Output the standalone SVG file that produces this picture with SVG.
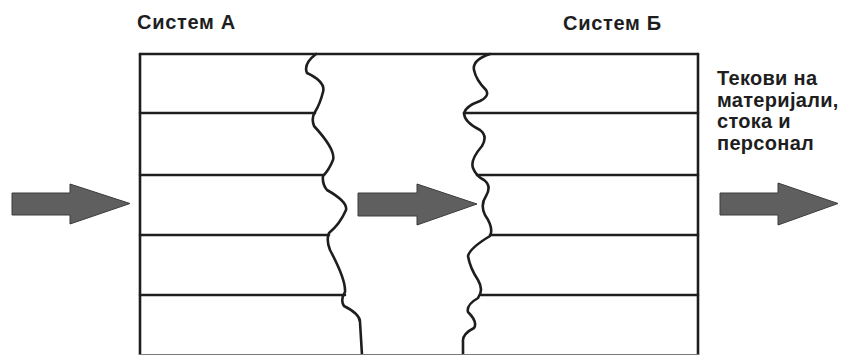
<svg xmlns="http://www.w3.org/2000/svg" width="841" height="355" viewBox="0 0 841 355">
<style>
.ln{fill:none;stroke:#1e1e1e;stroke-width:2.6;stroke-linecap:round;stroke-linejoin:round}
.ar{fill:#5f5f5f;stroke:#3c3c3c;stroke-width:1}
.t{font-family:"Liberation Sans",Arial,sans-serif;font-weight:bold;font-size:20px;fill:#1e1e1e}
</style>
<rect width="841" height="355" fill="#ffffff"/>
<g id="systemA">
<text class="t" x="137" y="29" letter-spacing="0.7">Систем А</text>
<path class="ln" d="M140,54 L140,355"/>
<path class="ln" d="M140,113 L315,113 M140,175 L323,175 M140,235 L329,235 M140,295 L345,295"/>
<path class="ln" d="M316,54 Q303,64 307,73 Q326,82 323,92 Q320,104 315,112 Q311,118 314,126 Q336,150 333,160 Q329,170 323,176 Q322,184 327,190 Q348,202 346,210 Q340,224 329,233 Q326,240 330,250 Q346,280 345,292 Q340,300 344,306 Q360,314 360,322 L362,355"/>
</g>
<g id="systemB">
<text class="t" x="563" y="30" letter-spacing="0.7">Систем Б</text>
<path class="ln" d="M698,54 L698,355"/>
<path class="ln" d="M464,113 L698,113 M477,175 L698,175 M490,235 L698,235 M481,295 L698,295"/>
<path class="ln" d="M490,54 Q472,60 474,70 Q476,80 486,90 Q490,96 480,101 Q466,106 464,113 Q464,122 480,130 Q488,136 482,146 Q470,160 473,168 Q476,176 484,180 Q492,186 486,196 Q480,205 485,215 Q494,228 490,236 Q470,248 468,256 Q470,268 478,280 Q484,290 478,298 Q466,305 468,312 Q478,322 474,328 Q462,334 463,342 L463,355"/>
</g>
<g id="frame">
<path class="ln" d="M140,54 L698,54"/>
<path d="M139,354.5 L699,354.5" stroke="#7a7a7a" stroke-width="1"/>
</g>
<g id="label">
<text class="t" x="717" y="85" letter-spacing="0.3">Текови на</text>
<text class="t" x="717" y="107" letter-spacing="0.3">материјали,</text>
<text class="t" x="717" y="128" letter-spacing="0.3">стока и</text>
<text class="t" x="717" y="150" letter-spacing="0.3">персонал</text>
</g>
<g id="connectors">
<polygon class="ar" points="12,193 70,193 70,184 130,203.5 70,224 70,215 12,215"/>
<polygon class="ar" points="358,193 417,193 417,184 477,204 417,225 417,216 358,216"/>
<polygon class="ar" points="720,193 778,193 778,183 838,203.5 778,225 778,215 720,215"/>
</g>
</svg>
